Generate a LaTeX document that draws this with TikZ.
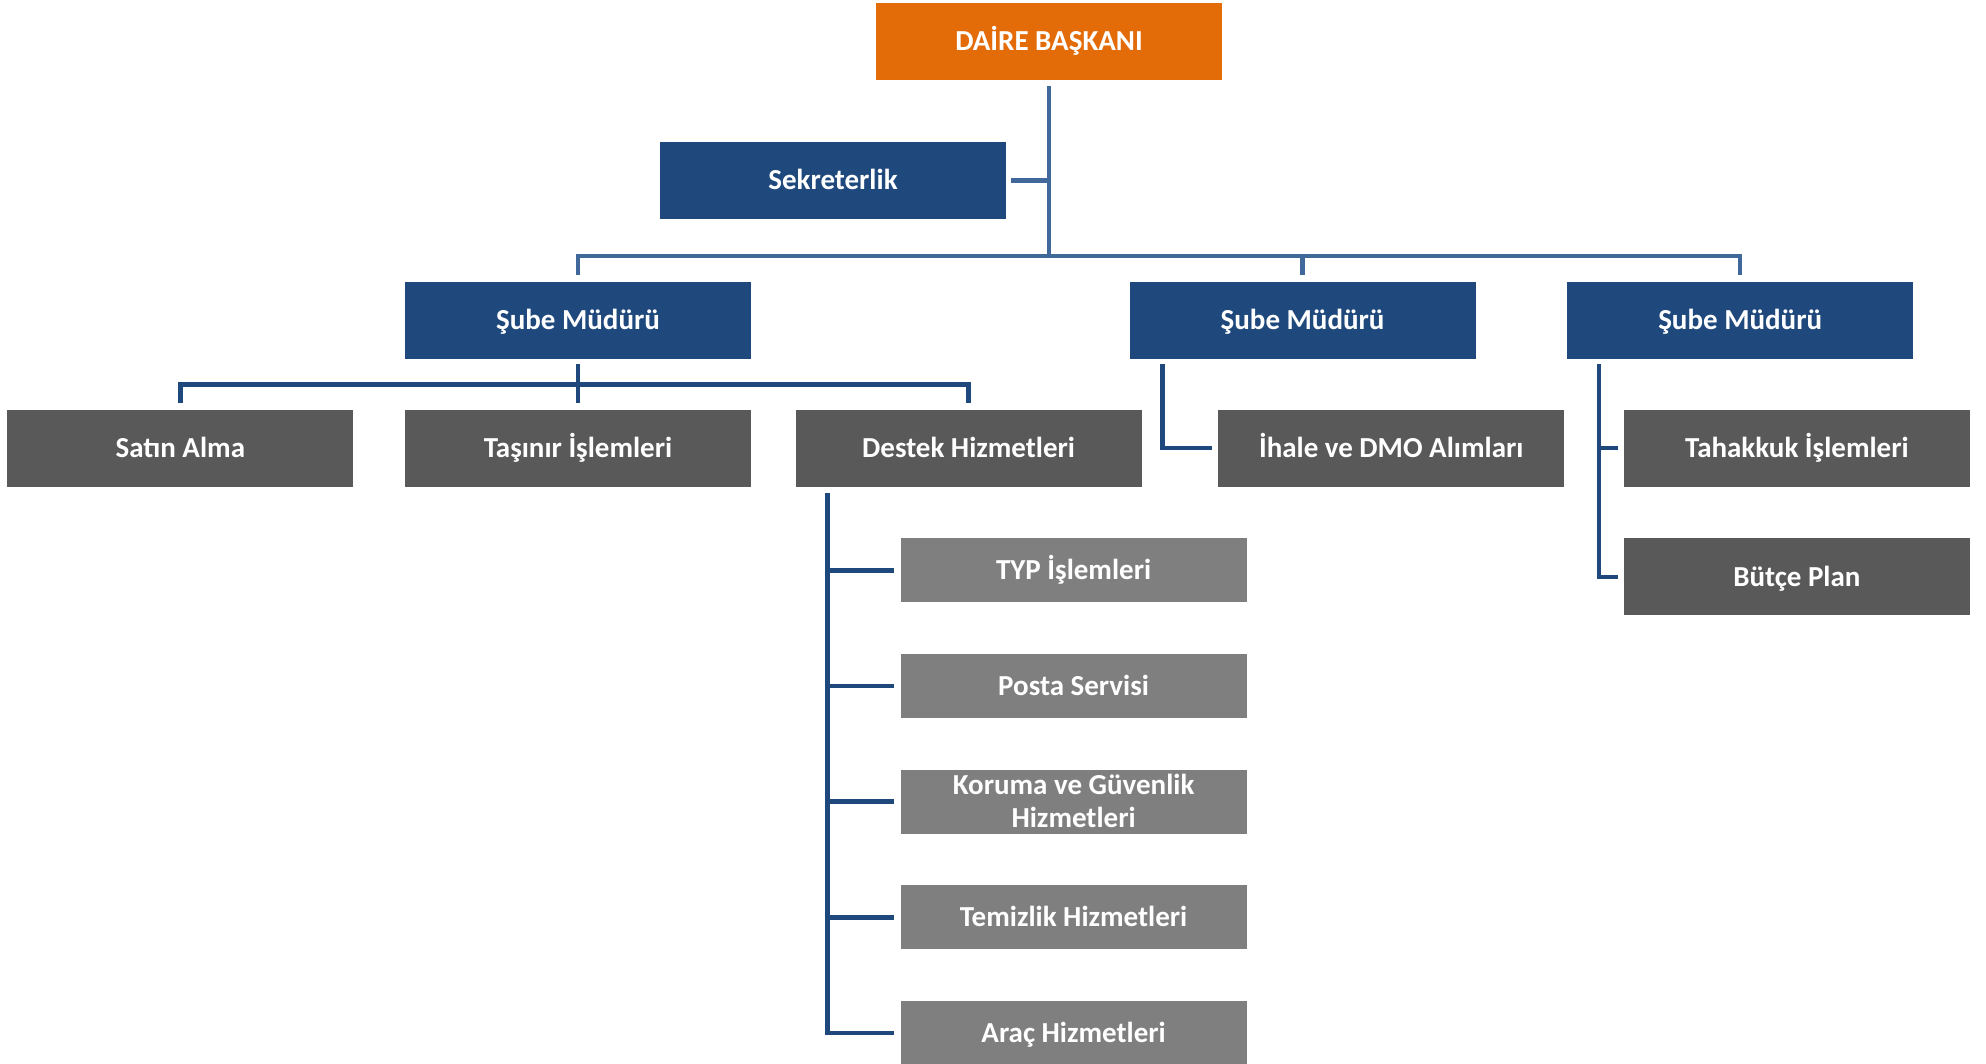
\documentclass[tikz,border=0pt]{standalone}
\usepackage{fontspec}
\setmainfont{Carlito}
\usetikzlibrary{positioning}
\definecolor{bossorange}{HTML}{E36C09}
\definecolor{mgrblue}{HTML}{1F497D}
\definecolor{toplinkblue}{HTML}{41689B}
\definecolor{unitgray}{HTML}{595959}
\definecolor{subgray}{HTML}{7F7F7F}

\begin{document}
\begin{tikzpicture}[x=0.02cm, y=-0.02cm]
\tikzset{box/.style={rectangle, align=center, inner sep=0pt, text=white, minimum width=6.92cm, minimum height=1.54cm,
			text height=0.37cm, text depth=0cm, font=\bfseries\fontsize{16.5}{19.3}\selectfont},
		boss/.style={box, fill=bossorange},
		mgr/.style={box, fill=mgrblue},
		unit/.style={box, fill=unitgray},
		sub/.style={box, fill=subgray, minimum height=1.28cm},
		toplink/.style={draw=toplinkblue, line width=0.09cm},
		link/.style={draw=mgrblue, line width=0.09cm}}
\useasboundingbox (0,0) rectangle (1986,1063);
\node[boss] (DB) at (1049,41) {DAİRE BAŞKANI};
\node[mgr] (SK) at (833,180.5) {Sekreterlik};
\node[mgr] (SB1) at (578,320.5) {Şube Müdürü};
\node[mgr, right=7.56cm of SB1] (SB2) {Şube Müdürü};
\node[mgr, right=1.82cm of SB2] (SB3) {Şube Müdürü};
\node[unit, below=1cm of SB1] (TI) {Taşınır İşlemleri};
\node[unit, left=1.02cm of TI] (SA) {Satın Alma};
\node[unit, right=0.88cm of TI] (DH) {Destek Hizmetleri};
\node[unit, right=1.52cm of DH] (IH) {İhale ve DMO Alımları};
\node[unit, right=1.18cm of IH] (TA) {Tahakkuk İşlemleri};
\node[unit, below=1.02cm of TA] (BP) {Bütçe Plan};
\node[sub, below=1.02cm of DH.south west, anchor=north west, xshift=2.1cm] (TYP) {TYP İşlemleri};
\node[sub, below=1.02cm of TYP] (PS) {Posta Servisi};
\node[sub, below=1.02cm of PS, text height=1.05cm] (KG) {Koruma ve Güvenlik\\Hizmetleri};
\node[sub, below=1.02cm of KG] (TH) {Temizlik Hizmetleri};
\node[sub, below=1.02cm of TH] (AH) {Araç Hizmetleri};
% top level
\coordinate (bus) at (1049,256);
\draw[toplink] ([yshift=-0.12cm]DB.south) -- (bus);
\draw[toplink] ([xshift=0.1cm]SK.east) -- (SK.east -| DB.south);
\draw[toplink] ([yshift=0.14cm]SB1.north) |- (bus) -| ([yshift=0.14cm]SB3.north);
\draw[toplink] (bus -| SB2.north) -- ([yshift=0.14cm]SB2.north);
% first branch
\coordinate (L) at ([yshift=-0.5cm]SB1.south);
\draw[link] ([yshift=-0.1cm]SB1.south) -- ([yshift=0.12cm]TI.north);
\draw[link] ([yshift=0.12cm]SA.north) |- (L) -| ([yshift=0.12cm]DH.north);
% second branch
\draw[link] ([xshift=0.66cm,yshift=-0.1cm]SB2.south west) |- ([xshift=-0.12cm]IH.west);
% third branch
\coordinate (R) at ([xshift=0.64cm,yshift=-0.1cm]SB3.south west);
\draw[link] (R) |- ([xshift=-0.12cm]BP.west);
\draw[link] (R |- TA.west) -- ([xshift=-0.12cm]TA.west);
% support services
\coordinate (D) at ([xshift=0.64cm,yshift=-0.12cm]DH.south west);
\draw[link] (D) |- ([xshift=-0.12cm]AH.west);
\draw[link] (D |- TYP.west) -- ([xshift=-0.12cm]TYP.west);
\draw[link] (D |- PS.west) -- ([xshift=-0.12cm]PS.west);
\draw[link] (D |- KG.west) -- ([xshift=-0.12cm]KG.west);
\draw[link] (D |- TH.west) -- ([xshift=-0.12cm]TH.west);
\end{tikzpicture}
\end{document}
